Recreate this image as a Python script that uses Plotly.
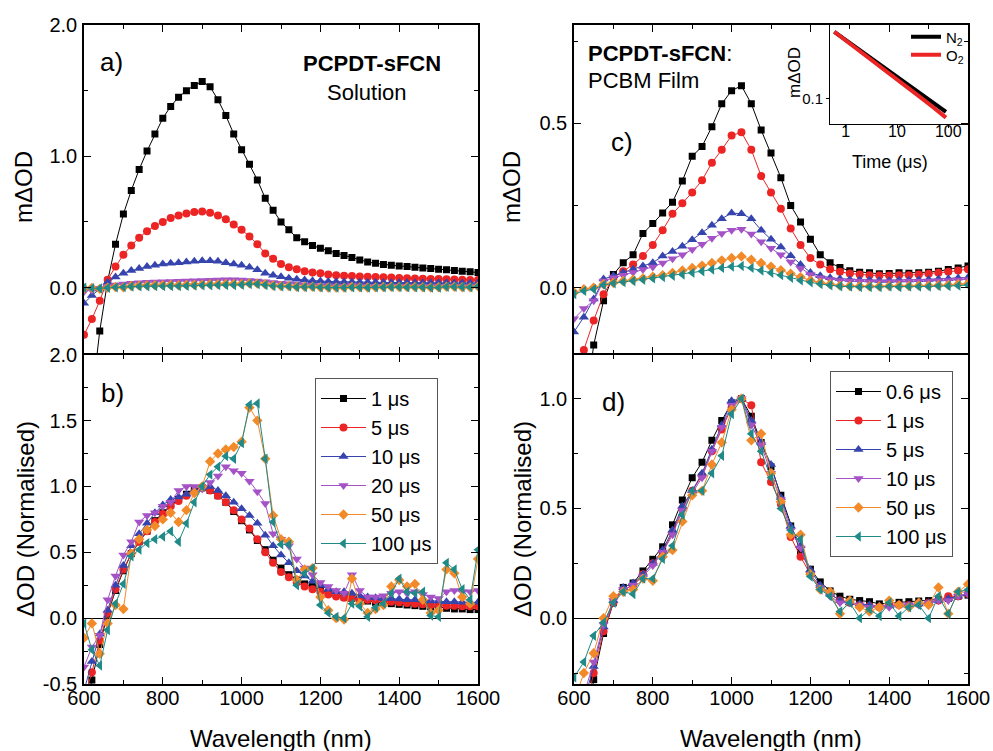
import plotly.graph_objects as go

# ---------------- data ----------------
WL_AB = list(range(600, 1601, 20))   # wavelength grid for panels a, b (nm)
WL_CD = list(range(600, 1601, 25))   # wavelength grid for panels c, d (nm)

LABELS_AB = ["1 μs", "5 μs", "10 μs", "20 μs", "50 μs", "100 μs"]
LABELS_CD = ["0.6 μs", "1 μs", "5 μs", "10 μs", "50 μs", "100 μs"]

# panel a: solution, mΔOD
A_1US = [-1.6, -0.85, -0.33, 0.05, 0.33, 0.56, 0.74, 0.90, 1.04, 1.17, 1.29, 1.38, 1.45, 1.50, 1.54, 1.57, 1.53, 1.43, 1.31, 1.17, 1.05, 0.94, 0.82, 0.68, 0.59, 0.50, 0.44, 0.38, 0.35, 0.32, 0.30, 0.28, 0.26, 0.245, 0.23, 0.21, 0.195, 0.185, 0.175, 0.17, 0.165, 0.16, 0.155, 0.15, 0.145, 0.14, 0.135, 0.13, 0.125, 0.12, 0.115]
A_5US = [-0.36, -0.24, -0.10, 0.06, 0.16, 0.25, 0.32, 0.38, 0.43, 0.47, 0.50, 0.53, 0.55, 0.565, 0.575, 0.58, 0.57, 0.55, 0.52, 0.48, 0.44, 0.39, 0.33, 0.26, 0.22, 0.18, 0.155, 0.14, 0.125, 0.115, 0.11, 0.10, 0.095, 0.09, 0.088, 0.085, 0.083, 0.08, 0.078, 0.076, 0.074, 0.072, 0.07, 0.068, 0.066, 0.065, 0.063, 0.062, 0.06, 0.058, 0.057]
A_10US = [-0.12, -0.06, -0.01, 0.04, 0.08, 0.11, 0.13, 0.145, 0.16, 0.17, 0.18, 0.185, 0.19, 0.195, 0.2, 0.205, 0.205, 0.2, 0.19, 0.18, 0.17, 0.155, 0.135, 0.11, 0.095, 0.082, 0.072, 0.064, 0.058, 0.053, 0.05, 0.047, 0.045, 0.043, 0.042, 0.041, 0.04, 0.04, 0.039, 0.039, 0.038, 0.038, 0.037, 0.037, 0.036, 0.036, 0.036, 0.035, 0.035, 0.035, 0.035]
A_20US = [-0.03, -0.02, -0.005, 0.01, 0.02, 0.027, 0.033, 0.037, 0.04, 0.043, 0.045, 0.047, 0.049, 0.05, 0.052, 0.054, 0.056, 0.058, 0.06, 0.059, 0.057, 0.055, 0.05, 0.045, 0.038, 0.033, 0.03, 0.025, 0.02, 0.018, 0.015, 0.013, 0.012, 0.011, 0.017, 0.012, 0.009, 0.009, 0.01, 0.011, 0.011, 0.01, 0.011, 0.01, 0.009, 0.009, 0.011, 0.012, 0.011, 0.011, 0.012]
A_50US = [-0.005, -0.002, -0.01, 0.0, 0.005, 0.002, 0.012, 0.015, 0.017, 0.018, 0.019, 0.02, 0.018, 0.021, 0.022, 0.023, 0.025, 0.026, 0.027, 0.027, 0.028, 0.032, 0.03, 0.025, 0.016, 0.012, 0.011, 0.006, 0.007, 0.007, 0.003, 0.001, 0.0, 0.0, 0.006, 0.002, 0.001, 0.002, 0.005, 0.006, 0.005, 0.005, 0.005, 0.003, 0.001, 0.003, 0.007, 0.007, 0.003, 0.002, 0.009]
A_100US = [0.0, -0.004, -0.007, -0.002, 0.002, 0.004, 0.008, 0.009, 0.01, 0.011, 0.011, 0.012, 0.011, 0.013, 0.015, 0.017, 0.018, 0.019, 0.02, 0.02, 0.022, 0.027, 0.027, 0.02, 0.012, 0.009, 0.009, 0.004, 0.005, 0.006, 0.002, 0.001, 0.0, 0.0, 0.002, 0.002, 0.0, 0.002, 0.003, 0.004, 0.005, 0.003, 0.003, 0.003, 0.0, 0.0, 0.007, 0.006, 0.004, 0.002, 0.008]

# panel b: solution, normalised
B_1US = [-0.75, -0.47, -0.2, 0.03, 0.21, 0.36, 0.49, 0.58, 0.66, 0.74, 0.80, 0.86, 0.90, 0.94, 0.97, 0.99, 0.97, 0.93, 0.88, 0.81, 0.74, 0.67, 0.59, 0.52, 0.44, 0.38, 0.33, 0.29, 0.26, 0.24, 0.21, 0.19, 0.18, 0.16, 0.15, 0.14, 0.13, 0.12, 0.115, 0.11, 0.105, 0.10, 0.095, 0.09, 0.085, 0.08, 0.075, 0.07, 0.07, 0.065, 0.065]
B_5US = [-0.62, -0.41, -0.17, 0.04, 0.22, 0.37, 0.49, 0.58, 0.66, 0.73, 0.79, 0.85, 0.89, 0.93, 0.96, 0.99, 0.97, 0.93, 0.88, 0.82, 0.75, 0.68, 0.6, 0.5, 0.42, 0.35, 0.31, 0.27, 0.24, 0.22, 0.2, 0.18, 0.165, 0.155, 0.15, 0.145, 0.14, 0.135, 0.13, 0.125, 0.12, 0.115, 0.11, 0.105, 0.1, 0.1, 0.095, 0.095, 0.09, 0.09, 0.09]
B_10US = [-0.55, -0.33, -0.12, 0.06, 0.25, 0.4, 0.55, 0.64, 0.72, 0.8, 0.86, 0.9, 0.92, 0.94, 0.97, 0.99, 1.0, 0.97, 0.93, 0.88, 0.83, 0.78, 0.72, 0.63, 0.55, 0.48, 0.42, 0.36, 0.32, 0.28, 0.25, 0.22, 0.2, 0.2, 0.19, 0.17, 0.16, 0.155, 0.15, 0.15, 0.145, 0.14, 0.14, 0.135, 0.13, 0.13, 0.125, 0.125, 0.12, 0.12, 0.12]
B_20US = [-0.37, -0.22, -0.13, 0.14, 0.32, 0.48, 0.58, 0.73, 0.78, 0.8, 0.85, 0.88, 0.97, 1.0, 1.0, 0.98, 1.03, 1.08, 1.15, 1.12, 1.1, 1.04, 0.96, 0.87, 0.64, 0.6, 0.55, 0.45, 0.38, 0.33, 0.27, 0.24, 0.21, 0.19, 0.33, 0.21, 0.16, 0.16, 0.17, 0.19, 0.2, 0.19, 0.2, 0.18, 0.16, 0.15, 0.2, 0.21, 0.2, 0.2, 0.21]
B_50US = [-0.15, -0.04, -0.27, -0.04, 0.1, 0.07, 0.49, 0.6, 0.67, 0.7, 0.75, 0.8, 0.73, 0.82, 0.95, 1.0, 1.19, 1.25, 1.28, 1.30, 1.34, 1.6, 1.5, 1.21, 0.78, 0.6, 0.58, 0.29, 0.37, 0.38, 0.16, 0.06, 0.0, -0.01, 0.30, 0.11, 0.04, 0.07, 0.1, 0.24, 0.29, 0.24, 0.26, 0.14, 0.04, 0.06, 0.37, 0.34, 0.16, 0.11, 0.45]
B_100US = [-0.04, -0.24, -0.36, -0.09, 0.11, 0.26, 0.47, 0.52, 0.57, 0.6, 0.62, 0.66, 0.58, 0.72, 0.88, 1.0, 1.09, 1.15, 1.23, 1.21, 1.33, 1.62, 1.63, 1.21, 0.73, 0.56, 0.56, 0.25, 0.34, 0.38, 0.1, 0.04, 0.01, 0.0, 0.11, 0.09, 0.01, 0.08, 0.11, 0.19, 0.3, 0.2, 0.19, 0.2, 0.02, 0.01, 0.42, 0.37, 0.22, 0.14, 0.52]

# panel c: PCBM film, mΔOD
C_06US = [-0.6, -0.4, -0.175, -0.04, 0.04, 0.076, 0.10, 0.165, 0.195, 0.227, 0.26, 0.325, 0.40, 0.43, 0.49, 0.56, 0.60, 0.615, 0.56, 0.48, 0.41, 0.335, 0.25, 0.20, 0.147, 0.10, 0.076, 0.061, 0.051, 0.047, 0.045, 0.042, 0.043, 0.045, 0.044, 0.045, 0.047, 0.05, 0.055, 0.06, 0.066]
C_1US = [-0.35, -0.19, -0.10, -0.02, 0.03, 0.05, 0.07, 0.096, 0.13, 0.175, 0.225, 0.257, 0.29, 0.327, 0.38, 0.42, 0.463, 0.473, 0.42, 0.34, 0.29, 0.24, 0.18, 0.13, 0.09, 0.07, 0.056, 0.048, 0.043, 0.04, 0.038, 0.037, 0.037, 0.038, 0.038, 0.04, 0.042, 0.045, 0.048, 0.052, 0.056]
C_5US = [-0.135, -0.09, -0.035, 0.026, 0.036, 0.046, 0.056, 0.066, 0.076, 0.096, 0.11, 0.126, 0.146, 0.167, 0.19, 0.21, 0.227, 0.225, 0.21, 0.175, 0.147, 0.124, 0.097, 0.07, 0.046, 0.036, 0.03, 0.027, 0.025, 0.024, 0.023, 0.022, 0.022, 0.023, 0.023, 0.024, 0.025, 0.026, 0.027, 0.029, 0.031]
C_10US = [-0.095, -0.064, -0.04, 0.02, 0.03, 0.038, 0.046, 0.055, 0.063, 0.075, 0.088, 0.1, 0.116, 0.132, 0.15, 0.165, 0.175, 0.178, 0.163, 0.14, 0.12, 0.1, 0.078, 0.058, 0.04, 0.03, 0.025, 0.022, 0.02, 0.019, 0.018, 0.018, 0.018, 0.018, 0.019, 0.019, 0.02, 0.021, 0.022, 0.023, 0.025]
C_50US = [-0.015, -0.005, 0.0, 0.01, 0.015, 0.02, 0.024, 0.028, 0.033, 0.038, 0.045, 0.052, 0.06, 0.067, 0.075, 0.083, 0.09, 0.095, 0.085, 0.075, 0.064, 0.053, 0.042, 0.032, 0.022, 0.015, 0.01, 0.006, 0.005, 0.004, 0.004, 0.004, 0.005, 0.005, 0.005, 0.006, 0.006, 0.007, 0.008, 0.01, 0.012]
C_100US = [-0.02, -0.01, -0.005, 0.008, 0.013, 0.017, 0.02, 0.024, 0.028, 0.032, 0.036, 0.04, 0.045, 0.05, 0.055, 0.06, 0.064, 0.066, 0.06, 0.052, 0.045, 0.038, 0.03, 0.022, 0.016, 0.011, 0.007, 0.004, 0.003, 0.002, 0.002, 0.002, 0.003, 0.002, 0.003, 0.003, 0.003, 0.005, 0.005, 0.006, 0.008]

# panel d: PCBM film, normalised
D_06US = [-0.9, -0.6, -0.28, -0.07, 0.07, 0.14, 0.16, 0.215, 0.268, 0.325, 0.425, 0.538, 0.64, 0.71, 0.81, 0.9, 0.98, 1.0, 0.92, 0.8, 0.69, 0.56, 0.42, 0.3, 0.223, 0.165, 0.124, 0.1, 0.086, 0.08, 0.075, 0.065, 0.07, 0.072, 0.075, 0.078, 0.08, 0.085, 0.09, 0.1, 0.105]
D_1US = [-0.6, -0.45, -0.25, -0.06, 0.07, 0.13, 0.15, 0.2, 0.25, 0.3, 0.39, 0.5, 0.58, 0.65, 0.76, 0.86, 0.96, 1.0, 0.97, 0.71, 0.62, 0.52, 0.37, 0.28, 0.2, 0.14, 0.11, 0.08, 0.07, 0.06, 0.055, 0.05, 0.06, 0.06, 0.06, 0.065, 0.07, 0.08, 0.1, 0.1, 0.11]
D_5US = [-0.5, -0.38, -0.22, -0.04, 0.08, 0.14, 0.16, 0.2, 0.25, 0.31, 0.4, 0.51, 0.58, 0.66, 0.77, 0.88, 0.99, 1.0, 0.9, 0.8, 0.7, 0.55, 0.42, 0.33, 0.22, 0.15, 0.11, 0.08, 0.07, 0.065, 0.06, 0.055, 0.055, 0.06, 0.06, 0.065, 0.07, 0.08, 0.09, 0.1, 0.11]
D_10US = [-0.45, -0.35, -0.2, -0.03, 0.08, 0.13, 0.15, 0.19, 0.24, 0.3, 0.38, 0.49, 0.57, 0.64, 0.76, 0.87, 0.97, 1.0, 0.88, 0.79, 0.66, 0.54, 0.4, 0.32, 0.2, 0.14, 0.1, 0.07, 0.07, 0.06, 0.05, 0.05, 0.05, 0.06, 0.06, 0.06, 0.07, 0.08, 0.08, 0.1, 0.11]
D_50US = [-0.38, -0.25, -0.16, 0.0, 0.1, 0.12, 0.13, 0.18, 0.17, 0.28, 0.31, 0.44, 0.56, 0.58, 0.7, 0.8, 0.95, 1.0, 0.81, 0.84, 0.66, 0.53, 0.38, 0.38, 0.2, 0.13, 0.12, 0.02, 0.08, 0.05, 0.03, 0.05, 0.08, 0.06, 0.05, 0.07, 0.06, 0.14, 0.02, 0.12, 0.155]
D_100US = [-0.27, -0.2, -0.08, -0.02, 0.07, 0.12, 0.11, 0.18, 0.18, 0.27, 0.33, 0.47, 0.58, 0.58, 0.66, 0.74, 0.93, 1.0, 0.84, 0.76, 0.64, 0.5, 0.4, 0.36, 0.19, 0.13, 0.1, 0.03, 0.07, 0.0, 0.04, 0.01, 0.07, 0.01, 0.05, 0.06, 0.0, 0.1, 0.02, 0.12, 0.13]

# inset: kinetics at peak, N2 vs O2
INSET_T = [0.6, 1, 2, 3, 5, 10, 20, 30, 50, 90]
INSET_N2 = [0.81, 0.63, 0.45, 0.37, 0.285, 0.20, 0.142, 0.116, 0.09, 0.067]
INSET_O2 = [0.81, 0.62, 0.44, 0.355, 0.27, 0.185, 0.128, 0.103, 0.078, 0.056]

# ---------------- styling ----------------
COLORS = ["#000000", "#ec2424", "#3545ad", "#a552c6", "#f28a2a", "#1f8a88"]
SYMBOLS = ["square", "circle", "triangle-up", "triangle-down", "diamond", "triangle-left"]
SIZES = [7, 8, 9, 9, 8, 9]
FONT = "Liberation Sans, Arial, sans-serif"
W, H = 993, 751


def px(x):
    return x / W


def py(y):
    return 1 - y / H


fig = go.Figure()

panels = [
    ("x", "y", WL_AB, [A_1US, A_5US, A_10US, A_20US, A_50US, A_100US], LABELS_AB, None),
    ("x2", "y2", WL_AB, [B_1US, B_5US, B_10US, B_20US, B_50US, B_100US], LABELS_AB, "legend"),
    ("x3", "y3", WL_CD, [C_06US, C_1US, C_5US, C_10US, C_50US, C_100US], LABELS_CD, None),
    ("x4", "y4", WL_CD, [D_06US, D_1US, D_5US, D_10US, D_50US, D_100US], LABELS_CD, "legend2"),
]

for xa, ya, wl, series, labels, leg in panels:
    for i, vals in enumerate(series):
        fig.add_trace(go.Scatter(
            x=wl, y=vals, xaxis=xa, yaxis=ya, mode="lines+markers",
            name=labels[i],
            line=dict(color=COLORS[i], width=1),
            marker=dict(symbol=SYMBOLS[i], size=SIZES[i], color=COLORS[i], line=dict(width=0)),
            showlegend=leg is not None,
            legend=leg if leg else "legend",
        ))

fig.add_trace(go.Scatter(x=INSET_T, y=INSET_N2, xaxis="x5", yaxis="y5", mode="lines",
                         name="N<sub>2</sub>", line=dict(color="#000000", width=4), legend="legend3"))
fig.add_trace(go.Scatter(x=INSET_T, y=INSET_O2, xaxis="x5", yaxis="y5", mode="lines",
                         name="O<sub>2</sub>", line=dict(color="#ec2424", width=4), legend="legend4"))

XL = [px(84), px(478)]
XR = [px(574), px(968)]
YT = [py(353.25), py(25)]
YB = [py(684), py(354.75)]

tickfont = dict(family=FONT, size=20, color="black")


def xaxis(domain, anchor, labels):
    return dict(domain=domain, anchor=anchor, range=[600, 1600], tick0=600, dtick=200,
                ticks="inside", ticklen=7, tickwidth=1.2, tickcolor="black",
                minor=dict(dtick=100, ticks="inside", ticklen=4, tickwidth=1.2, tickcolor="black"),
                showline=True, linecolor="black", linewidth=1.5, mirror="ticks",
                showgrid=False, zeroline=False, showticklabels=labels, tickfont=tickfont,
                ticklabelstandoff=-5, automargin=False)


def yaxis(domain, anchor, rng, tickvals, minor_dtick, zeroline):
    return dict(domain=domain, anchor=anchor, range=rng, tickmode="array", tickvals=tickvals,
                ticktext=["%.1f" % v for v in tickvals],
                ticks="inside", ticklen=7, tickwidth=1.2, tickcolor="black",
                minor=dict(tickmode="linear", tick0=0, dtick=minor_dtick, ticks="inside",
                           ticklen=4, tickwidth=1.2, tickcolor="black"),
                showline=True, linecolor="black", linewidth=1.5, mirror="ticks",
                showgrid=False, zeroline=zeroline, zerolinecolor="black", zerolinewidth=1,
                tickfont=tickfont, ticklabelstandoff=1, automargin=False)


legend_common = dict(font=dict(family=FONT, size=20, color="black"), bgcolor="white",
                     bordercolor="#555555", borderwidth=1, xanchor="left", yanchor="top",
                     tracegroupgap=0, itemclick=False, itemwidth=45)
inset_legend = dict(xanchor="left", yanchor="middle", bgcolor="rgba(0,0,0,0)", borderwidth=0,
                    font=dict(family=FONT, size=15, color="black"), itemclick=False)

fig.update_layout(
    template="simple_white",
    width=W, height=H, autosize=False,
    margin=dict(l=0, r=0, t=0, b=0, autoexpand=False),
    paper_bgcolor="white", plot_bgcolor="rgba(0,0,0,0)",
    font=dict(family=FONT, color="black"),
    xaxis=xaxis(XL, "y", False),
    xaxis2=xaxis(XL, "y2", True),
    xaxis3=xaxis(XR, "y3", False),
    xaxis4=xaxis(XR, "y4", True),
    yaxis=yaxis(YT, "x", [-0.5, 2.0], [0.0, 1.0, 2.0], 0.5, False),
    yaxis2=yaxis(YB, "x2", [-0.5, 2.0], [-0.5, 0.0, 0.5, 1.0, 1.5, 2.0], 0.25, True),
    yaxis3=yaxis(YT, "x3", [-0.2, 0.8], [0.0, 0.5], 0.25, False),
    yaxis4=yaxis(YB, "x4", [-0.3, 1.2], [0.0, 0.5, 1.0], 0.25, True),
    xaxis5=dict(domain=[px(830), px(968)], anchor="y5", type="log", range=[-0.306, 2.384],
                tickvals=[1, 10, 100], ticktext=["1", "10", "100"], ticks="outside", ticklen=3,
                tickcolor="black", showline=True, linecolor="black", linewidth=1, mirror=False,
                showgrid=False, zeroline=False, automargin=False, ticklabelstandoff=-10,
                tickfont=dict(family=FONT, size=16, color="black")),
    yaxis5=dict(domain=[py(124), py(25)], anchor="x5", type="log", range=[-1.338, 0.0],
                tickvals=[0.1], ticktext=["0.1"], ticks="outside", ticklen=3, tickcolor="black",
                showline=True, linecolor="black", linewidth=1, mirror=False, showgrid=False,
                zeroline=False, automargin=False,
                tickfont=dict(family=FONT, size=15, color="black")),
    legend=dict(x=px(315), y=py(378), **legend_common),
    legend2=dict(x=px(830), y=py(371), **legend_common),
    legend3=dict(x=px(906), y=py(37), **inset_legend),
    legend4=dict(x=px(906), y=py(55), **inset_legend),
)

ann = []


def add_text(text, x, y, size, xanchor="center", angle=0):
    ann.append(dict(text=text, x=px(x), y=py(y), xref="paper", yref="paper", showarrow=False,
                    xanchor=xanchor, yanchor="middle", textangle=angle,
                    font=dict(family=FONT, size=size, color="black")))


add_text("a)", 111, 62, 26)
add_text("<b>PCPDT-sFCN</b>", 372, 63, 22)
add_text("Solution", 367, 92, 22)
add_text("b)", 112, 393, 26)
add_text("c)", 622, 142, 26)
add_text("<b>PCPDT-sFCN</b>:", 586, 53, 22, xanchor="left")
add_text("PCBM Film", 586, 80, 22, xanchor="left")
add_text("d)", 613, 402, 26)
add_text("mΔOD", 24, 187, 24, angle=-90)
add_text("ΔOD (Normalised)", 25, 519, 24, angle=-90)
add_text("mΔOD", 512, 187, 24, angle=-90)
add_text("ΔOD (Normalised)", 522, 519, 24, angle=-90)
add_text("Wavelength (nm)", 281, 738, 24)
add_text("Wavelength (nm)", 771, 738, 24)
add_text("mΔOD", 795, 73, 17, angle=-90)
add_text("Time (μs)", 890, 162, 18)

fig.update_layout(annotations=ann)

fig.write_html("out.html", config={"displayModeBar": False},
               post_script="document.body.style.margin='0';document.body.style.overflow='hidden';")
